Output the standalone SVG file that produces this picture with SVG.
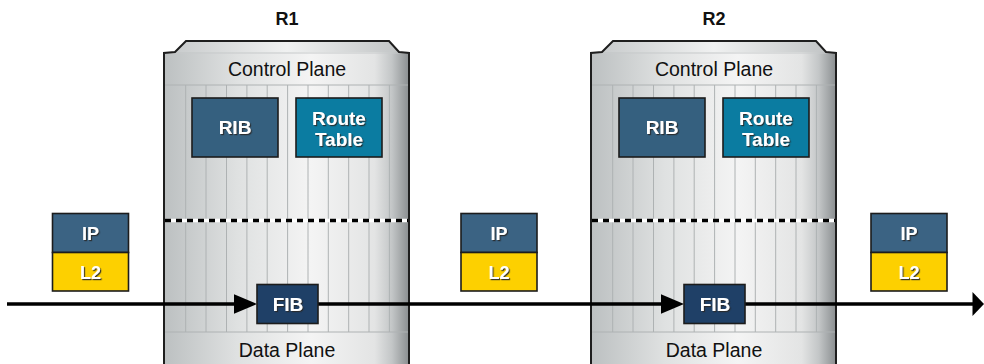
<svg xmlns="http://www.w3.org/2000/svg" xmlns:xlink="http://www.w3.org/1999/xlink" width="984" height="364" viewBox="0 0 984 364">
  <style>
    .title { font-family: "Liberation Sans", Arial, sans-serif; font-weight: bold; font-size: 18px; fill: #111; text-anchor: middle; }
    .plane { font-family: "Liberation Sans", Arial, sans-serif; font-size: 19.5px; fill: #111; text-anchor: middle; }
    .lbl { font-family: "Liberation Sans", Arial, sans-serif; font-weight: bold; font-size: 19px; fill: #fff; text-anchor: middle; filter: url(#txtShadow); }
    .lbl-s { font-family: "Liberation Sans", Arial, sans-serif; font-weight: bold; font-size: 18px; fill: #fff; text-anchor: middle; filter: url(#txtShadow); }
    .box { stroke: #1c1c1c; stroke-width: 1.6; }
    .rib { fill: #35607f; }
    .rt { fill: #0b7ca1; }
    .fib { fill: #1f4067; }
    .ip { fill: #3b6383; }
    .l2 { fill: #fdd000; }
    .ribline { stroke: #aeb2b3; stroke-width: 1; }
    .flow { stroke: #000; stroke-width: 3.6; fill: none; }
  </style>
  <defs>
    <filter id="txtShadow" x="-20%" y="-20%" width="140%" height="140%">
      <feDropShadow dx="1.2" dy="1.2" stdDeviation="0.6" flood-color="#2a2a2a" flood-opacity="0.9"/>
    </filter>
    <linearGradient id="bodyGrad" x1="0" y1="0" x2="1" y2="0">
      <stop offset="0" stop-color="#bcc0c1"/>
      <stop offset="0.3" stop-color="#dfe1e1"/>
      <stop offset="0.6" stop-color="#f4f4f4"/>
      <stop offset="0.86" stop-color="#e3e4e4"/>
      <stop offset="0.93" stop-color="#c3c6c7"/>
      <stop offset="1" stop-color="#8a8e90"/>
    </linearGradient>
    <linearGradient id="lidGrad" x1="0" y1="0" x2="1" y2="0">
      <stop offset="0" stop-color="#c9cccd"/>
      <stop offset="0.5" stop-color="#f0f1f1"/>
      <stop offset="1" stop-color="#c2c5c6"/>
    </linearGradient>
    <!-- router chassis, drawn at the R1 position -->
    <g id="chassis">
      <path d="M164,366 L164,53 L175,52 L186,41 L389,41 L399,52 L409,53 L409,366 Z" fill="url(#bodyGrad)"/>
      <path d="M175,52 L186,41 L389,41 L399,52 Z" fill="url(#lidGrad)"/>
      <line x1="165" y1="53" x2="408" y2="53" stroke="#c7cacb" stroke-width="1"/>
      <line x1="165" y1="85" x2="408" y2="85" class="ribline"/>
      <line x1="165" y1="332" x2="408" y2="332" class="ribline"/>
      <g class="ribline">
        <line x1="185.7" y1="85" x2="185.7" y2="332"/>
        <line x1="206" y1="85" x2="206" y2="332"/>
        <line x1="226.5" y1="85" x2="226.5" y2="332"/>
        <line x1="246.9" y1="85" x2="246.9" y2="332"/>
        <line x1="267.2" y1="85" x2="267.2" y2="332"/>
        <line x1="287.6" y1="85" x2="287.6" y2="332"/>
        <line x1="308" y1="85" x2="308" y2="332"/>
        <line x1="328.3" y1="85" x2="328.3" y2="332"/>
        <line x1="348.7" y1="85" x2="348.7" y2="332"/>
        <line x1="369" y1="85" x2="369" y2="332"/>
        <line x1="389.4" y1="85" x2="389.4" y2="332"/>
      </g>
      <!-- control / data plane boundary -->
      <line x1="165" y1="220.5" x2="408" y2="220.5" stroke="#fff" stroke-width="3.6"/>
      <line x1="165" y1="220.5" x2="408" y2="220.5" stroke="#000" stroke-width="3.6" stroke-dasharray="6 5"/>
      <path d="M164,366 L164,53 L175,52 L186,41 L389,41 L399,52 L409,53 L409,366" fill="none" stroke="#1e1e1e" stroke-width="2"/>
      <text x="287" y="76" class="plane">Control Plane</text>
      <text x="287" y="357" class="plane">Data Plane</text>
    </g>
  </defs>

  <!-- Router R1 -->
  <g id="r1">
    <text x="287" y="25" class="title">R1</text>
    <use xlink:href="#chassis" href="#chassis"/>
  </g>
  <g id="r1-rib">
    <rect x="192" y="98" width="86" height="59" class="box rib"/>
    <text x="235" y="134" class="lbl">RIB</text>
  </g>
  <g id="r1-route-table">
    <rect x="296" y="98" width="86" height="59" class="box rt"/>
    <text x="339" y="124.5" class="lbl">Route</text>
    <text x="339" y="146" class="lbl">Table</text>
  </g>

  <!-- Router R2 -->
  <g id="r2">
    <text x="714" y="25" class="title">R2</text>
    <use xlink:href="#chassis" href="#chassis" x="427"/>
  </g>
  <g id="r2-rib">
    <rect x="619" y="98" width="86" height="59" class="box rib"/>
    <text x="662" y="134" class="lbl">RIB</text>
  </g>
  <g id="r2-route-table">
    <rect x="723" y="98" width="86" height="59" class="box rt"/>
    <text x="766" y="124.5" class="lbl">Route</text>
    <text x="766" y="146" class="lbl">Table</text>
  </g>

  <!-- Packets (IP over L2) -->
  <g id="pkt-in">
    <rect x="52.5" y="213.5" width="76" height="39" class="box ip"/>
    <rect x="52.5" y="252.5" width="76" height="38.5" class="box l2"/>
    <text x="90.5" y="239.5" class="lbl-s">IP</text>
    <text x="90.5" y="278.5" class="lbl-s">L2</text>
  </g>
  <g id="pkt-mid">
    <rect x="461" y="213.5" width="76" height="39" class="box ip"/>
    <rect x="461" y="252.5" width="76" height="38.5" class="box l2"/>
    <text x="499" y="239.5" class="lbl-s">IP</text>
    <text x="499" y="278.5" class="lbl-s">L2</text>
  </g>
  <g id="pkt-out">
    <rect x="871" y="213.5" width="76" height="39" class="box ip"/>
    <rect x="871" y="252.5" width="76" height="38.5" class="box l2"/>
    <text x="909" y="239.5" class="lbl-s">IP</text>
    <text x="909" y="278.5" class="lbl-s">L2</text>
  </g>

  <!-- Forwarding path -->
  <g id="connectors">
    <line x1="7" y1="304" x2="236" y2="304" class="flow"/>
    <polygon points="234,294.3 257,304 234,313.7" fill="#000"/>
    <line x1="318" y1="304" x2="663" y2="304" class="flow"/>
    <polygon points="661,294.3 684,304 661,313.7" fill="#000"/>
    <line x1="745" y1="304" x2="974" y2="304" class="flow"/>
    <polygon points="972.5,292 984,304 972.5,316" fill="#000"/>
  </g>

  <g id="r1-fib">
    <rect x="257" y="284.5" width="61" height="39" class="box fib"/>
    <text x="288" y="310.5" class="lbl">FIB</text>
  </g>
  <g id="r2-fib">
    <rect x="684" y="284.5" width="61" height="39" class="box fib"/>
    <text x="715" y="310.5" class="lbl">FIB</text>
  </g>
</svg>
